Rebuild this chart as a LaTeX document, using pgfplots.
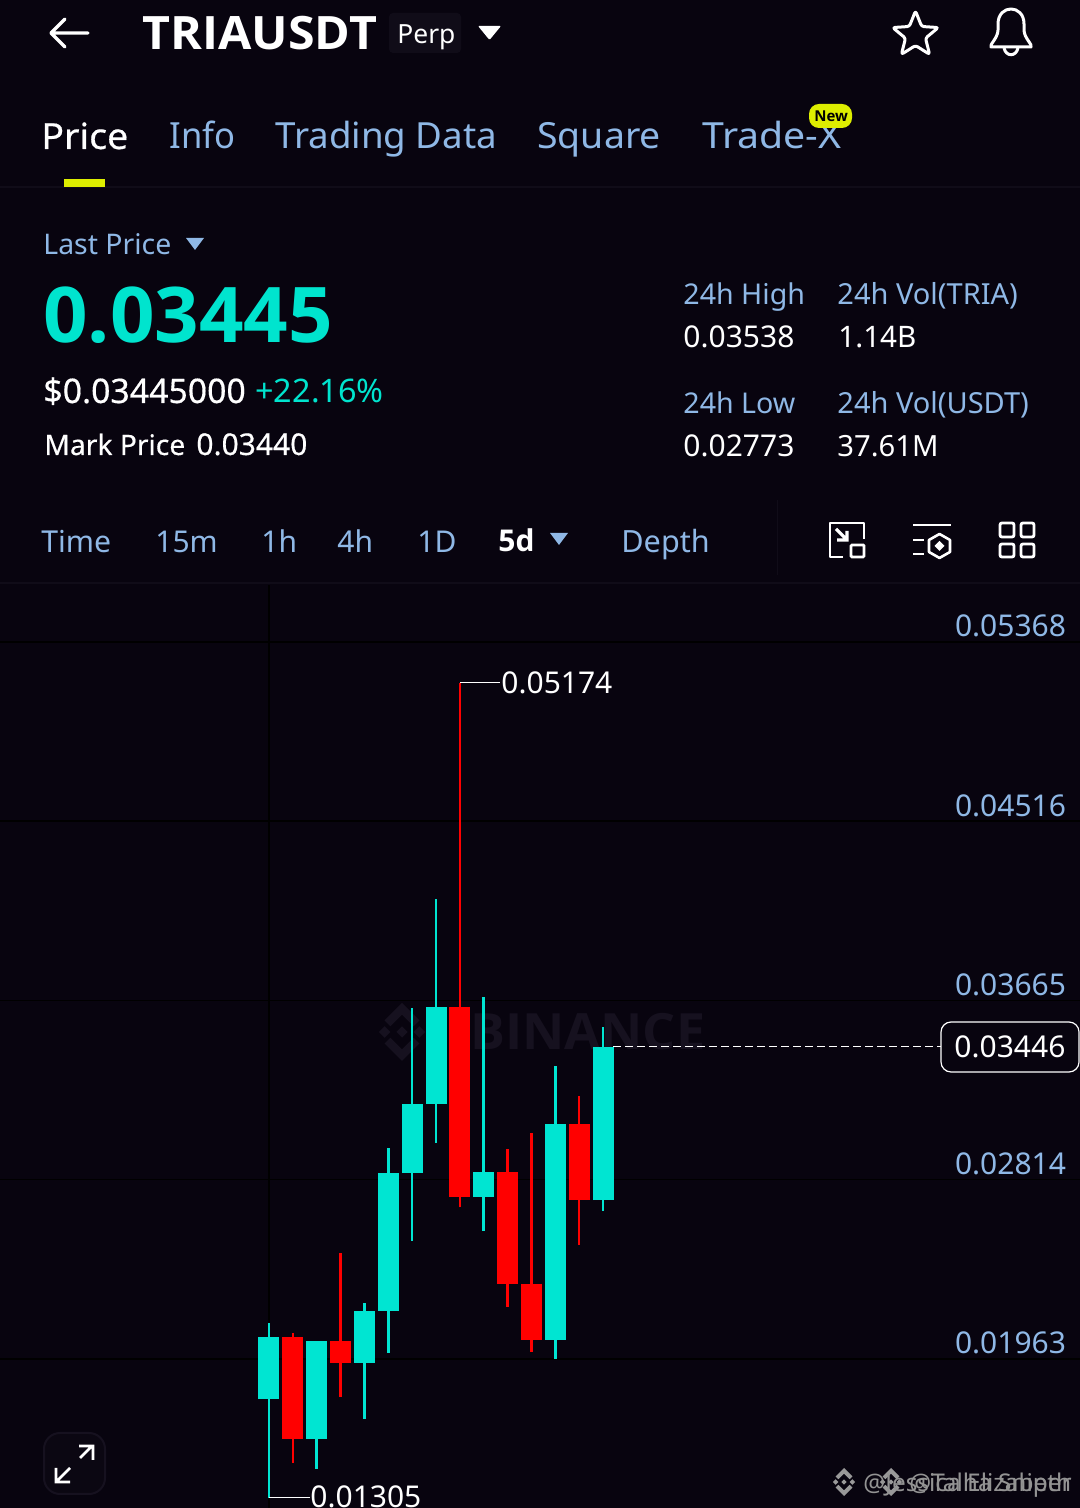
\documentclass[border=0pt]{standalone}
\usepackage{fontspec}
\setmainfont{Noto Sans}
\newfontfamily\bfam{Open Sans}
\newfontfamily\med[FakeBold=0.45]{Noto Sans}
\usepackage{graphicx}
\usepackage{pgfplots}
\pgfplotsset{compat=1.18}
\definecolor{bg}{HTML}{08040F}
\definecolor{lbl}{HTML}{8FB8E6}
\definecolor{teal}{HTML}{00E5D2}
\definecolor{tealt}{HTML}{00E4CE}
\definecolor{lime}{HTML}{DDEE00}
\definecolor{wm}{HTML}{16111F}
\definecolor{sep}{HTML}{100C18}
\newcommand\T[5]{\node[anchor=base west,inner sep=0pt,text=#4] at (#1,#2) {\fontsize{#3}{#3}\selectfont #5};}
\newcommand\logo[4]{\begin{scope}[shift={(#1,#2)},x=#3*0.5pt,y=-#3*0.5pt]
 \fill[#4] (0,-.19)--(.19,0)--(0,.19)--(-.19,0)--cycle;
 \fill[#4] (-.8,0)--(-.6,-.2)--(-.4,0)--(-.6,.2)--cycle;
 \fill[#4] (.8,0)--(.6,-.2)--(.4,0)--(.6,.2)--cycle;
 \fill[#4] (0,-1)--(.6,-.4)--(.4,-.2)--(0,-.6)--(-.4,-.2)--(-.6,-.4)--cycle;
 \fill[#4] (0,1)--(.6,.4)--(.4,.2)--(0,.6)--(-.4,.2)--(-.6,.4)--cycle;
 \end{scope}}
\begin{document}
\begin{tikzpicture}
\begin{scope}[x=0.5pt,y=-0.5pt,shift={(0pt,754pt)}]
\fill[bg] (0,0) rectangle (1080,1508);
\draw[sep,line width=0.75pt] (0,187)--(1080,187);
\draw[sep,line width=0.75pt] (0,583)--(1080,583);
\logo{402}{1032}{29}{wm}
\T{470}{1050}{25}{wm}{\bfam\bfseries\scalebox{1.04}[1]{BINANCE}}
\end{scope}
\begin{axis}[
  at={(0pt,0pt)},anchor=south west,scale only axis,
  width=540pt,height=461.5pt,
  xmin=-11.275,xmax=33.994,ymin=0.012556,ymax=0.056376,
  axis line style={draw=none},tick style={draw=none},
  xtick={0},xticklabels={},xmajorgrids,ymajorgrids,
  grid style={black,line width=0.75pt},
  ytick={0.01963,0.02814,0.03665,0.04516,0.05368},
  ytick pos=right,yticklabel pos=right,
  yticklabel style={anchor=base east,inner sep=0pt,xshift=-6.8pt,yshift=2.6pt,text=lbl,
    font=\fontsize{15}{15}\selectfont,
    /pgf/number format/.cd,fixed,fixed zerofill,precision=5,assume math mode=true},
  scaled y ticks=false,
  unbounded coords=jump,
  line cap=butt
]
% green wicks: low, high
\addplot[teal,line width=1.25pt] coordinates {
 (0,0.01305)(0,0.02135)(0,nan)
 (2,0.01441)(2,0.02050)(2,nan)
 (4,0.01678)(4,0.02229)(4,nan)
 (5,0.01993)(5,0.02965)(5,nan)
 (6,0.02525)(6,0.03630)(6,nan)
 (7,0.02989)(7,0.04147)(7,nan)
 (9,0.02571)(9,0.03682)(9,nan)
 (12,0.01963)(12,0.03354)(12,nan)
 (14,0.02667)(14,0.03539)};
% red wicks: low, high
\addplot[red,line width=1.35pt] coordinates {
 (1,0.01469)(1,0.02086)(1,nan)
 (3,0.01784)(3,0.02466)(3,nan)
 (8,0.02683)(8,0.05174)(8,nan)
 (10,0.02210)(10,0.02960)(10,nan)
 (11,0.01996)(11,0.03036)(11,nan)
 (13,0.02506)(13,0.03212)};
% green bodies: open, close
\addplot[teal,line width=10.5pt] coordinates {
 (0,0.01773)(0,0.02067)(0,nan)
 (2,0.01585)(2,0.02048)(2,nan)
 (4,0.01944)(4,0.02191)(4,nan)
 (5,0.02192)(5,0.02848)(5,nan)
 (6,0.02848)(6,0.03174)(6,nan)
 (7,0.03174)(7,0.03636)(7,nan)
 (9,0.02732)(9,0.02849)(9,nan)
 (12,0.02055)(12,0.03078)(12,nan)
 (14,0.02717)(14,0.03446)};
% red bodies: open, close
\addplot[red,line width=10.5pt] coordinates {
 (1,0.02067)(1,0.01585)(1,nan)
 (3,0.02048)(3,0.01944)(3,nan)
 (8,0.03636)(8,0.02732)(8,nan)
 (10,0.02849)(10,0.02321)(10,nan)
 (11,0.02321)(11,0.02055)(11,nan)
 (13,0.03078)(13,0.02717)};
% high, low, last price leaders
\addplot[white,line width=0.6pt] coordinates {(8,0.05174)(9.68,0.05174)};
\addplot[white,line width=0.6pt] coordinates {(0,0.01305)(1.72,0.01305)};
\addplot[white,line width=0.6pt,dash pattern=on 4pt off 2pt] coordinates {(14.42,0.03446)(28.17,0.03446)};
\end{axis}
\begin{scope}[x=0.5pt,y=-0.5pt,shift={(0pt,754pt)}]
% header
\draw[white,line width=1.7pt,line cap=round,line join=round] (88,33)--(51,33) (65,19)--(51,33)--(65,47);
\T{142}{50}{23}{white}{\bfam\bfseries\scalebox{1.05}[1]{TRIAUSDT}}
\fill[rounded corners=2pt,color=sep] (389,13) rectangle (461,53);
\T{397}{44}{13.2}{white}{Perp}
\fill[white,rounded corners=0.5pt] (478,26)--(501,26)--(489.5,40)--cycle;
\draw[white,line width=1.5pt,line join=round,rounded corners=1.2pt] ([shift={(915.5,35)}]-90:24)--([shift={(915.5,35)}]-54:10.5)--([shift={(915.5,35)}]-18:24)--([shift={(915.5,35)}]18:10.5)--([shift={(915.5,35)}]54:24)--([shift={(915.5,35)}]90:10.5)--([shift={(915.5,35)}]126:24)--([shift={(915.5,35)}]162:10.5)--([shift={(915.5,35)}]198:24)--([shift={(915.5,35)}]234:10.5)--cycle;
\draw[white,line width=1.5pt,line join=round] (991,47) .. controls (989,45) and (998,38) .. (998,30) -- (998,24) .. controls (998,4) and (1024,4) .. (1024,24) -- (1024,30) .. controls (1024,38) and (1033,45) .. (1031,47) -- cycle;
\draw[white,line width=1.5pt] (1004,48) .. controls (1006,57) and (1016,57) .. (1018,48);
% tabs
\T{41}{149}{18}{white}{\med\scalebox{1.04}[1]{Price}}
\T{169}{149}{18}{lbl}{\scalebox{0.96}[1]{Info}}
\T{275}{149}{18}{lbl}{\scalebox{1.02}[1]{Trading Data}}
\T{537}{149}{18}{lbl}{\scalebox{1.04}[1]{Square}}
\T{702}{149}{18}{lbl}{\scalebox{1.09}[1]{Trade-X}}
\fill[lime] (64,179) rectangle (105,187);
\fill[lime,rounded corners=5pt] (809,104) rectangle (852,128);
\T{814}{122}{7.5}{black}{\bfam\bfseries New}
% summary
\T{43}{255}{14.2}{lbl}{Last Price}
\fill[lbl] (186,238)--(204,238)--(195,250)--cycle;
\T{43}{343}{38.4}{tealt}{\bfam\bfseries\scalebox{1.015}[1]{0.03445}}
\T{43}{403}{16.9}{white}{\med \$0.03445000}
\T{255}{403}{16.2}{tealt}{+22.16\%}
\T{44}{455}{14.1}{white}{\med Mark Price}
\T{196}{455}{15}{white}{\med 0.03440}
\T{683}{305}{14.3}{lbl}{24h High}
\T{837}{305}{14.5}{lbl}{24h Vol(TRIA)}
\T{683}{348}{15}{white}{0.03538}
\T{838}{348}{14.8}{white}{1.14B}
\T{683}{414}{14.3}{lbl}{24h Low}
\T{837}{414}{14.5}{lbl}{24h Vol(USDT)}
\T{683}{457}{15}{white}{0.02773}
\T{837}{457}{14.6}{white}{37.61M}
% interval bar
\T{41}{553}{15.1}{lbl}{Time}
\T{155}{553}{15}{lbl}{15m}
\T{261}{553}{15}{lbl}{1h}
\T{337}{553}{15}{lbl}{4h}
\T{417}{553}{15}{lbl}{1D}
\T{498}{552}{15}{white}{\bfam\bfseries 5d}
\fill[lbl] (550,533)--(568,533)--(559,545)--cycle;
\T{621}{553}{15.3}{lbl}{Depth}
\draw[sep,line width=0.5pt] (777,500)--(777,575);
% tool icons
\draw[white,line width=1.4pt,line join=round] (843,557)--(830,557)--(830,523)--(864,523)--(864,539);
\draw[white,line width=1.4pt,rounded corners=0.5pt] (851,545) rectangle (864,557);
\draw[white,line width=1.6pt] (836,529)--(847,540) (837,540)--(847,540)--(847,531);
\draw[white,line width=1.2pt] (913,525)--(951,525) (913,540)--(924,540) (913,554)--(924,554);
\draw[white,line width=1.3pt,line join=round] (939.5,534)--(950,540)--(950,552)--(939.5,558)--(929,552)--(929,540)--cycle;
\fill[white] (939.5,541)--(944.5,546)--(939.5,551)--(934.5,546)--cycle;
\draw[white,line width=1.4pt,rounded corners=1pt] (1000,523) rectangle (1014,537) (1021,523) rectangle (1034,537) (1000,544) rectangle (1014,557) (1021,544) rectangle (1034,557);
% price labels in the plot
\T{501}{694}{15}{white}{0.05174}
\T{310}{1507}{15}{white}{0.01305}
\draw[white,fill=bg,line width=0.6pt,rounded corners=5pt] (941,1022) rectangle (1079,1072);
\T{954}{1058}{15}{white}{0.03446}
% expand button
\draw[wm,line width=1pt,fill=bg!80!wm,rounded corners=8pt] (44,1433) rectangle (105,1494);
\draw[white,line width=1.4pt] (57,1481)--(70,1468) (80,1458)--(92,1446) (79,1446)--(93,1446)--(93,1460) (56,1468)--(56,1482)--(70,1482);
% author watermarks
\logo{844}{1482}{14}{gray!80}
\logo{891}{1482}{14}{gray!80}
\T{863}{1491}{12.2}{gray!85}{@Jessica Elizabeth}
\T{909}{1491}{12.2}{gray!85}{@Talha Sniper}
\end{scope}
\pgfresetboundingbox
\path[use as bounding box] (0pt,0pt) rectangle (540pt,754pt);
\end{tikzpicture}
\end{document}
